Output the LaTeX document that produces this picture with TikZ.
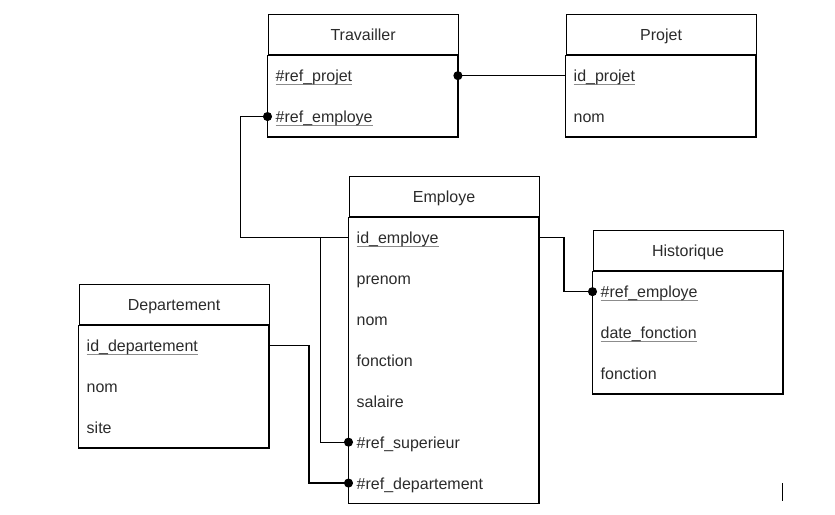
\documentclass[tikz,border=0pt]{standalone}
\usepackage{fontspec}
\setmainfont{Liberation Sans}
\usetikzlibrary{positioning,arrows.meta,scopes}
\definecolor{txtgray}{HTML}{2B2B2B}
\definecolor{keygray}{HTML}{8C8C8C}
\newcommand\keyattr[1]{\setbox0\hbox{#1}\rlap{\textcolor{keygray}{\rule[-3pt]{\wd0}{0.9pt}}}\box0}
\tikzset{
  tablehead/.style={draw, line width=1.2pt, minimum width=190pt, minimum height=40.5pt,
                    anchor=north west, inner sep=0pt, text=txtgray,
                    font=\fontsize{16}{19}\selectfont, text height=12pt, text depth=0pt},
  attr/.style={inner xsep=8pt, inner ysep=0pt, text width=174pt, minimum height=40.5pt,
               align=left, text=txtgray, font=\fontsize{16}{19}\selectfont,
               text height=12pt, text depth=0pt},
  tablebody/.style={draw, line width=1.2pt},
  fk/.style={line width=1.2pt, -{Circle[length=9pt]}, shorten >=-4.5pt},
}
\begin{document}
\begin{tikzpicture}[x=1pt,y=-1pt]
\useasboundingbox (0,0) rectangle (835,514);

% Travailler
\path node[tablehead] (trv) at (267.5,13.5) {Travailler}
      node[attr,anchor=north west] (trv-prj) at (trv.south west) {\keyattr{\#ref\_projet}}
      node[attr,below=0pt of trv-prj] (trv-emp) {\keyattr{\#ref\_employe}};
% Projet
\path node[tablehead] (prj) at (565.5,13.5) {Projet}
      node[attr,anchor=north west] (prj-id) at (prj.south west) {\keyattr{id\_projet}}
      node[attr,below=0pt of prj-id] (prj-nom) {nom};
% Employe
\path node[tablehead] (emp) at (348.5,175.5) {Employe}
      node[attr,anchor=north west] (emp-id) at (emp.south west) {\keyattr{id\_employe}}
      node[attr,below=0pt of emp-id]  (emp-pre) {prenom}
      node[attr,below=0pt of emp-pre] (emp-nom) {nom}
      node[attr,below=0pt of emp-nom] (emp-fct) {fonction}
      node[attr,below=0pt of emp-fct] (emp-sal) {salaire}
      node[attr,below=0pt of emp-sal] (emp-sup) {\#ref\_superieur}
      node[attr,below=0pt of emp-sup] (emp-dep) {\#ref\_departement};
% Departement
\path node[tablehead] (dep) at (78.5,283.5) {Departement}
      node[attr,anchor=north west] (dep-id) at (dep.south west) {\keyattr{id\_departement}}
      node[attr,below=0pt of dep-id]  (dep-nom) {nom}
      node[attr,below=0pt of dep-nom] (dep-site) {site};
% Historique
\path node[tablehead] (his) at (592.5,229.5) {Historique}
      node[attr,anchor=north west] (his-emp) at (his.south west) {\keyattr{\#ref\_employe}}
      node[attr,below=0pt of his-emp] (his-date) {\keyattr{date\_fonction}}
      node[attr,below=0pt of his-date] (his-fct) {fonction};

{[tablebody]
 \draw (trv.south west) rectangle (trv-emp.south east);
 \draw (prj.south west) rectangle (prj-nom.south east);
 \draw (emp.south west) rectangle (emp-dep.south east);
 \draw (dep.south west) rectangle (dep-site.south east);
 \draw (his.south west) rectangle (his-fct.south east);
}

{[fk]
 \draw (prj-id.west) -- (trv-prj.east);
 \draw (emp-id.west) -- ++(-108,0) |- (trv-emp.west);
 \draw (emp-id.west) -- ++(-28,0)  |- (emp-sup.west);
 \draw (dep-id.east) -- ++(40,0)   |- (emp-dep.west);
 \draw (emp-id.east) -- ++(25,0)   |- (his-emp.west);
}

\draw[line width=1.2pt] (782.5,483) -- (782.5,501);
\end{tikzpicture}
\end{document}
